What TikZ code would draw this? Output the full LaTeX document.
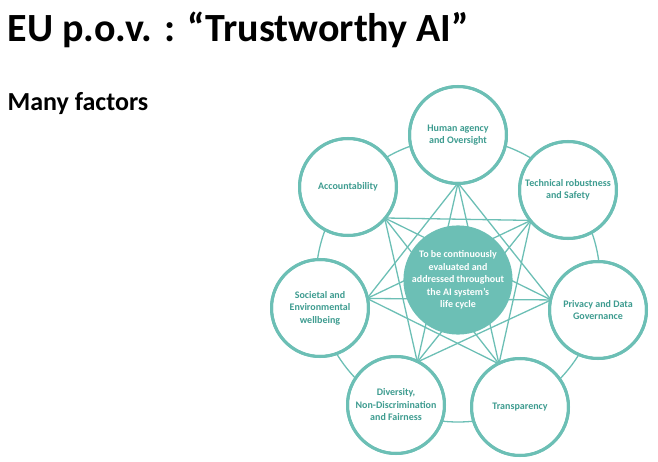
\documentclass[tikz,border=0pt]{standalone}
\usepackage{fontspec}
\setmainfont{Carlito}
\usetikzlibrary{calc}
\definecolor{euteal}{HTML}{6CBFB5}
\definecolor{eutext}{HTML}{3E9C90}
\tikzset{
  factor/.style={circle, draw=euteal, line width=3pt, fill=white, minimum size=97pt, inner sep=0pt, align=center, font=\fontsize{10}{12.5}\selectfont\bfseries, text=eutext},
  core/.style={circle, fill=euteal, minimum size=102pt, inner sep=0pt, align=center, font=\fontsize{10}{12.5}\selectfont\bfseries, text=white},
  link/.style={euteal, line width=1.3pt}
}
\begin{document}
\begin{tikzpicture}[x=1pt,y=-1pt]
	\useasboundingbox (0,0) rectangle (658,462);
	
	% Titel
	\node[anchor=west, font=\fontsize{40}{46}\selectfont\bfseries] (title) at (4,30) {EU p.o.v. : “Trustworthy AI”};
	\node[anchor=west, font=\fontsize{26}{30}\selectfont\bfseries] (many) at (4,104) {Many factors};
	
	% Ring
	\draw[link] (458,280) circle (142);
	
	% Faktoren
	\node[factor] (f1) at (458,135) {Human agency\\and Oversight};
	\node[factor] (f2) at (568,190) {Technical robustness\\and Safety};
	\node[factor] (f3) at (598,310) {Privacy and Data\\Governance};
	\node[factor] (f4) at (520,407) {Transparency};
	\node[factor] (f5) at (396,405) {Diversity,\\Non-Discrimination\\and Fairness};
	\node[factor] (f6) at (320,308) {Societal and\\Environmental\\wellbeing};
	\node[factor] (f7) at (348,187) {Accountability};
	
	% Eckpunkte zur Mitte hin
	\foreach \i in {1,...,7} {
		\coordinate (v\i) at ($(f\i)!48pt!(458,280)$);
	}
	
	% Verbindungen
	\begin{scope}[on background layer/.style={}]
	\foreach \i/\j in {1/3,1/4,1/5,1/6,2/4,2/5,2/6,2/7,3/5,3/6,3/7,4/6,4/7,5/7} {
		\draw[link] (v\i) -- (v\j);
	}
	\end{scope}
	
	% Kreise neu zeichnen (ohne Fuellung), damit Linien sauber enden
	\foreach \i in {1,...,7} {
		\draw[euteal, line width=3pt] (f\i) circle (48.5pt);
	}
	
	% Kern
	\node[core] (core) at (458,280) {To be continuously\\evaluated and\\addressed throughout\\the AI system’s\\life cycle};
\end{tikzpicture}
\end{document}
